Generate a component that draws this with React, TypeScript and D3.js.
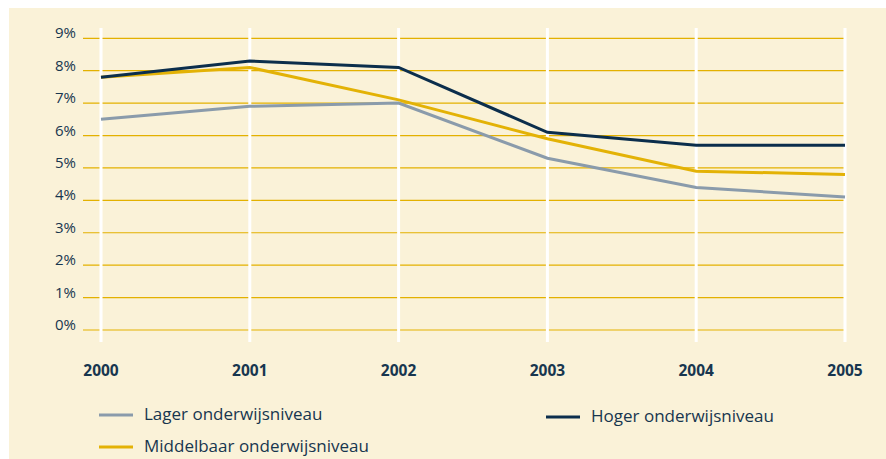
import React from 'react';
import * as d3 from 'd3';

const years = ['2000', '2001', '2002', '2003', '2004', '2005'];
const lager = [6.5, 6.9, 7.0, 5.3, 4.4, 4.1];
const middelbaar = [7.8, 8.1, 7.1, 5.9, 4.9, 4.8];
const hoger = [7.8, 8.3, 8.1, 6.1, 5.7, 5.7];
const yTicks = [0, 1, 2, 3, 4, 5, 6, 7, 8, 9];

const series = [
  { name: 'Lager onderwijsniveau', values: lager, color: '#8a9bab' },
  { name: 'Middelbaar onderwijsniveau', values: middelbaar, color: '#e3b206' },
  { name: 'Hoger onderwijsniveau', values: hoger, color: '#0b2e4c' },
];

const W = 886;
const H = 459;
const textColor = '#17364f';
const font = '"Open Sans", "Noto Sans", sans-serif';

export default function App() {
  const x = d3.scalePoint<string>().domain(years).range([101, 845]);
  const y = d3.scaleLinear().domain([0, 9]).range([330, 38.3]);

  const line = d3.line<number>()
    .x((_, i) => x(years[i]) ?? 0)
    .y(d => y(d));

  // legend positions: two on the left column, one on the right
  const legend = [
    { s: series[0], lx: 99, ly: 415 },
    { s: series[1], lx: 99, ly: 447 },
    { s: series[2], lx: 546, ly: 417 },
  ];

  return (
    <svg width={W} height={H} style={{ position: 'absolute', left: 0, top: 0, display: 'block' }}>
      <rect x={9} y={8} width={W - 9} height={H - 8} fill="#faf2d8" />

      {/* horizontal gridlines */}
      {yTicks.map(t => (
        <line key={t} x1={83} x2={844} y1={y(t)} y2={y(t)} stroke="#e3b100" strokeWidth={1.2} />
      ))}

      {/* vertical white lines */}
      {years.map(yr => (
        <line key={yr} x1={x(yr)} x2={x(yr)} y1={28} y2={342} stroke="#ffffff" strokeWidth={3} />
      ))}

      {/* y tick labels */}
      {yTicks.map(t => (
        <text key={t} x={76} y={y(t)} dy={0} textAnchor="end" fill={textColor}
          fontFamily={font} fontSize={15}>{t}%</text>
      ))}

      {/* x tick labels */}
      {years.map(yr => (
        <text key={yr} x={x(yr)} y={376} textAnchor="middle" fill={textColor}
          fontFamily={font} fontSize={15.5} fontWeight="bold">{yr}</text>
      ))}

      {/* series */}
      {series.map(s => (
        <path key={s.name} d={line(s.values) || ''} fill="none" stroke={s.color} strokeWidth={3} />
      ))}

      {/* legend */}
      {legend.map(({ s, lx, ly }) => (
        <g key={s.name}>
          <line x1={lx} x2={lx + 34} y1={ly} y2={ly} stroke={s.color} strokeWidth={3} />
          <text x={lx + 45} y={ly} dy={5} fill={textColor} fontFamily={font} fontSize={17}>{s.name}</text>
        </g>
      ))}
    </svg>
  );
}
